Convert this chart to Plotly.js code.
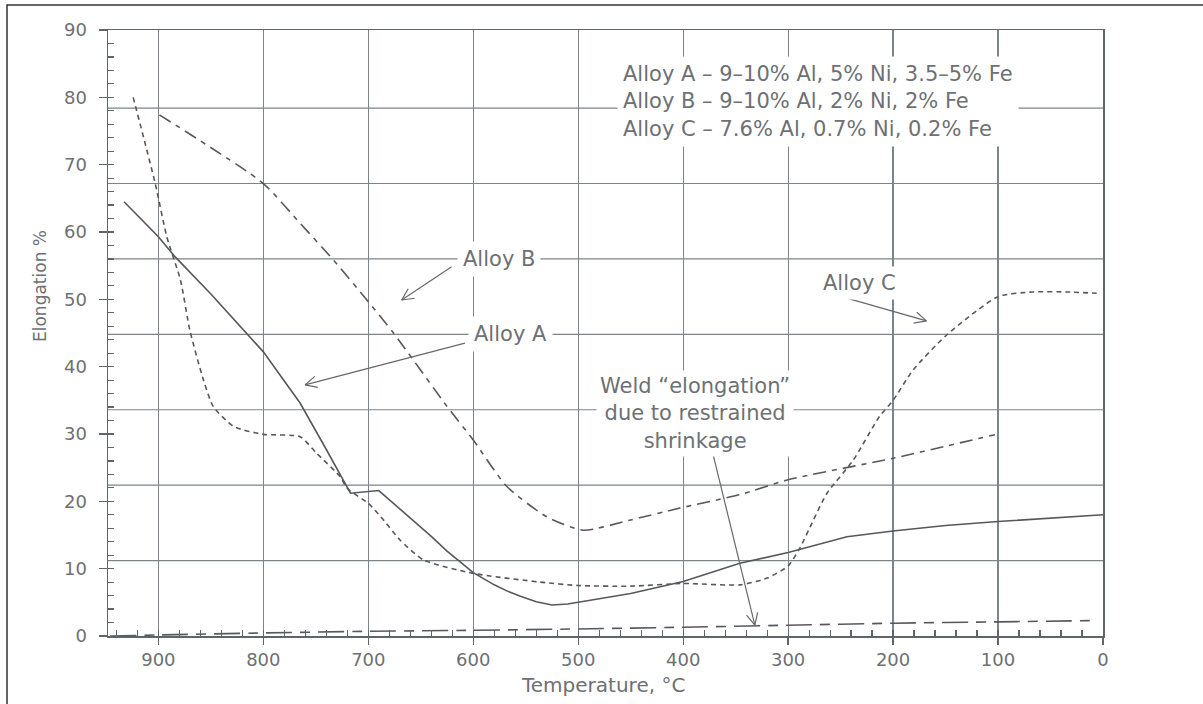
<!DOCTYPE html>
<html><head><meta charset="utf-8">
<script src="https://cdn.plot.ly/plotly-3.0.1.min.js"></script>
<style>html,body{margin:0;padding:0;background:#fff;} #chart{width:1203px;height:704px;}</style>
</head><body><div id="chart"></div>
<script>
// ---------- data ----------
const alloyA_temp = [932.7, 900, 884, 850, 800, 765, 740, 725, 717, 690, 670, 657, 640, 625, 600, 580, 568, 555, 540, 525, 510, 500, 450, 400, 346, 300, 244, 200, 150, 100, 50, 0];
const alloyA_elong = [64.5, 59.3, 56.3, 50.8, 42.2, 34.6, 27.7, 23.5, 21.2, 21.6, 18.9, 17.2, 14.8, 12.6, 9.4, 7.6, 6.7, 5.9, 5.1, 4.6, 4.75, 5.0, 6.3, 8.1, 10.8, 12.4, 14.75, 15.6, 16.4, 17.0, 17.5, 18.0];

const alloyB_temp = [899, 800, 765, 733, 700, 676, 625, 600, 568, 530, 495, 451, 403, 346, 300, 200, 103];
const alloyB_elong = [77.4, 67.2, 61.3, 55.8, 49.65, 45.0, 34.1, 29.1, 22.2, 17.7, 15.7, 17.2, 19.0, 21.0, 23.2, 26.4, 29.9];

const alloyC_temp = [924, 903, 892, 879, 870, 857, 847.6, 828, 800, 765, 749, 727, 720, 700, 688, 670, 647.5, 600, 536, 500, 450, 400, 346, 320, 300, 289, 276, 263, 238, 213, 200, 181, 149, 100, 67, 35, 6];
const alloyC_elong = [80, 67.2, 59.3, 52.9, 45.4, 38.0, 34.05, 31.1, 29.95, 29.6, 27.1, 23.7, 21.9, 19.7, 17.7, 14.3, 11.3, 9.3, 8.0, 7.5, 7.4, 7.8, 7.6, 8.6, 10.4, 13.0, 17.2, 21.2, 26.1, 32.6, 35.0, 39.5, 44.7, 50.4, 51.1, 51.1, 50.9];

const weld_temp = [946, 900, 800, 700, 600, 500, 400, 300, 200, 100, 5];
const weld_elong = [0.0, 0.15, 0.45, 0.7, 0.85, 1.05, 1.3, 1.6, 1.9, 2.1, 2.3];

const xTickVals = [900, 800, 700, 600, 500, 400, 300, 200, 100, 0];
const xTickText = ["900", "800", "700", "600", "500", "400", "300", "200", "100", "0"];
const yTickVals = [0, 10, 20, 30, 40, 50, 60, 70, 80, 90];
const yTickText = ["0", "10", "20", "30", "40", "50", "60", "70", "80", "90"];
const gridY = [11.2, 22.4, 33.6, 44.8, 56.0, 67.2, 78.4];

const legendLines = [
  "Alloy A – 9–10% Al, 5% Ni, 3.5–5% Fe",
  "Alloy B – 9–10% Al, 2% Ni, 2% Fe",
  "Alloy C – 7.6% Al, 0.7% Ni, 0.2% Fe"
];
const weldLines = ["Weld “elongation”", "due to restrained", "shrinkage"];
const xTitle = "Temperature, °C";
const yTitle = "Elongation %";

// arrows: [tailTemp, tailElong, headTemp, headElong]
const arrowB = [620.6, 54.85, 668.2, 49.9];
const arrowA = [607.9, 43.5, 760.3, 37.3];
const arrowC = [249.1, 50.4, 168.2, 46.8];
const arrowWeld = [371.4, 26.9, 331.7, 1.63];

// ---------- layout helpers ----------
const W = 1203, H = 704, M = {l: 108, r: 100, t: 30, b: 68};
const plotW = W - M.l - M.r, plotH = H - M.t - M.b;
const xRange = [948, 0], yRange = [0, 90];
function d2px(t) { return M.l + (xRange[0] - t) / (xRange[0] - xRange[1]) * plotW; }
function d2py(v) { return M.t + plotH - (v - yRange[0]) / (yRange[1] - yRange[0]) * plotH; }
function px2d(px) { return xRange[0] - (px - M.l) / plotW * (xRange[0] - xRange[1]); }
function py2d(py) { return yRange[0] + (M.t + plotH - py) / plotH * (yRange[1] - yRange[0]); }
function paperX(px) { return (px - M.l) / plotW; }
function paperY(py) { return (M.t + plotH - py) / plotH; }

const FONT = "DejaVu Sans, Verdana, sans-serif";
const TXT = "#6e7073";
const LINE = "#56585b";
const GRID = "#7b858a";
const AX = "#5f6568";

function curve(T, E, dash, shape) {
  return {x: T, y: E, type: "scatter", mode: "lines", hoverinfo: "skip", showlegend: false,
    line: {color: LINE, width: 1.6, dash: dash, shape: shape || "linear", smoothing: 0.6}};
}

const traces = [
  curve(alloyA_temp, alloyA_elong, "solid", "linear"),
  curve(alloyB_temp, alloyB_elong, "13px,6px,5px,6px", "spline"),
  curve(alloyC_temp, alloyC_elong, "5px,4px", "spline"),
  curve(weld_temp, weld_elong, "26px,8px,10px,8px", "spline"),
  // invisible helpers so the minor-tick overlay axes are surely drawn
  {x: weld_temp, y: weld_elong, xaxis: "x2", yaxis: "y", type: "scatter", mode: "lines", opacity: 0,
    line: {width: 0}, showlegend: false, hoverinfo: "skip"},
  {x: weld_temp, y: weld_elong, xaxis: "x", yaxis: "y2", type: "scatter", mode: "lines", opacity: 0,
    line: {width: 0}, showlegend: false, hoverinfo: "skip"}
];

const shapes = [];
gridY.forEach(v => shapes.push({type: "line", xref: "paper", yref: "y", x0: 0, x1: 1, y0: v, y1: v,
  layer: "below", line: {color: GRID, width: 1.2}}));

function arrow(a) {
  const [t0, v0, t1, v1] = a;
  shapes.push({type: "line", xref: "x", yref: "y", x0: t0, y0: v0, x1: t1, y1: v1, line: {color: "#66686b", width: 1.2}});
  const hx = d2px(t1), hy = d2py(v1), tx = d2px(t0), ty = d2py(v0);
  let dx = tx - hx, dy = ty - hy; const len = Math.hypot(dx, dy); dx /= len; dy /= len;
  const ang = 26 * Math.PI / 180, L = 13;
  [ang, -ang].forEach(g => {
    const rx = dx * Math.cos(g) - dy * Math.sin(g), ry = dx * Math.sin(g) + dy * Math.cos(g);
    shapes.push({type: "line", xref: "x", yref: "y", x0: t1, y0: v1, x1: px2d(hx + rx * L), y1: py2d(hy + ry * L),
      line: {color: "#66686b", width: 1.2}});
  });
}
[arrowB, arrowA, arrowC, arrowWeld].forEach(arrow);

// picture frame (left & top edges visible)
shapes.push({type: "rect", xref: "paper", yref: "paper", x0: paperX(7), x1: paperX(1230), y0: paperY(5), y1: paperY(730),
  line: {color: "#333", width: 1.5}, layer: "above"});

function label(text, t, v, opts) {
  return Object.assign({text: text, x: t, y: v, xref: "x", yref: "y", showarrow: false,
    font: {family: FONT, size: 21, color: TXT}, bgcolor: "#ffffff", borderpad: 4,
    xanchor: "center", yanchor: "middle"}, opts || {});
}

const annotations = [
  label(legendLines.join("<br>"), px2d(617), py2d(101), {xanchor: "left", align: "left", borderpad: 5}),
  label("Alloy B", px2d(499), py2d(259), {borderpad: 5}),
  label("Alloy A", px2d(510), py2d(334), {borderpad: 5}),
  label("Alloy C", px2d(859), py2d(283), {borderpad: 4}),
  label(weldLines.join("<br>"), px2d(695), py2d(413), {align: "center", borderpad: 3}),
  {text: xTitle, xref: "paper", yref: "paper", x: paperX(603), y: paperY(685), showarrow: false,
    xanchor: "center", yanchor: "middle", font: {family: FONT, size: 20, color: TXT}},
  {text: yTitle, xref: "paper", yref: "paper", x: paperX(40), y: paperY(286), showarrow: false, textangle: -90,
    xanchor: "center", yanchor: "middle", font: {family: FONT, size: 17, color: TXT}}
];

const layout = {
  width: W, height: H, margin: M, paper_bgcolor: "#fff", plot_bgcolor: "#fff", showlegend: false,
  xaxis: {range: xRange, autorange: false, tickmode: "array", tickvals: xTickVals, ticktext: xTickText,
    ticks: "outside", ticklen: 7, tickwidth: 1.3, tickcolor: AX, ticklabelstandoff: 0,
    showgrid: true, gridcolor: GRID, gridwidth: 1.2, showline: true, mirror: true, linecolor: AX, linewidth: 1.5,
    zeroline: false, tickfont: {family: FONT, size: 18, color: TXT}},
  xaxis2: {overlaying: "x", anchor: "y", side: "bottom", range: xRange, autorange: false, tickmode: "linear",
    tick0: 0, dtick: 20, ticks: "inside", ticklen: 6, tickwidth: 1.2, tickcolor: AX, showticklabels: false,
    showgrid: false, showline: false, zeroline: false},
  yaxis: {range: yRange, autorange: false, tickmode: "array", tickvals: yTickVals, ticktext: yTickText,
    ticks: "outside", ticklen: 8, tickwidth: 1.3, tickcolor: AX, ticklabelstandoff: 8,
    showgrid: false, showline: true, mirror: true, linecolor: AX, linewidth: 1.5, zeroline: false,
    tickfont: {family: FONT, size: 18, color: TXT}},
  yaxis2: {overlaying: "y", anchor: "x", side: "left", range: yRange, autorange: false, tickmode: "linear",
    tick0: 0, dtick: 2, ticks: "inside", ticklen: 6, tickwidth: 1.2, tickcolor: AX, showticklabels: false,
    showgrid: false, showline: false, zeroline: false},
  shapes: shapes, annotations: annotations
};

Plotly.newPlot("chart", traces, layout, {displayModeBar: false, staticPlot: true});
</script></body></html>
